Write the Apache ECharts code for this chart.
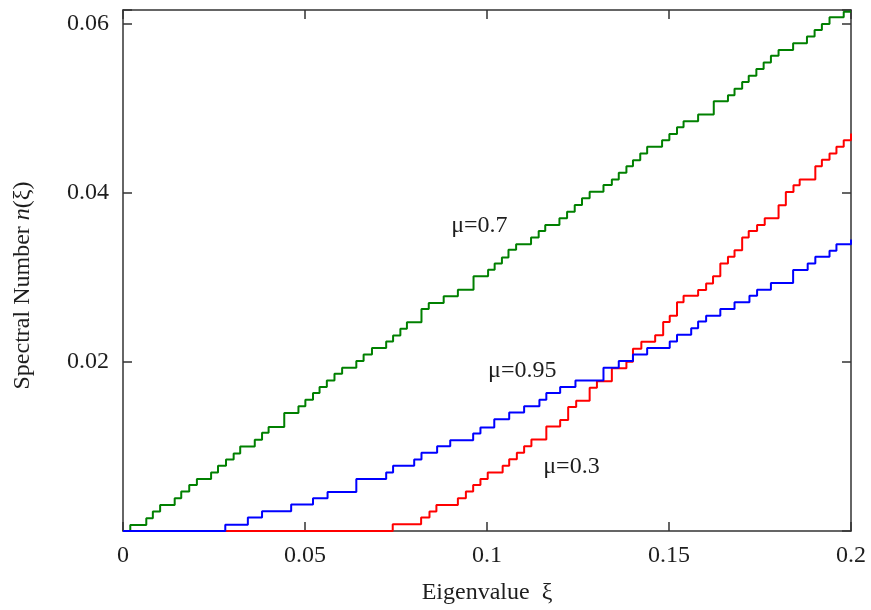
<!DOCTYPE html>
<html>
<head>
<meta charset="utf-8">
<script src="https://cdn.jsdelivr.net/npm/echarts@6/dist/echarts.min.js"></script>
<style>html,body{margin:0;padding:0;background:#fff}#c{width:871px;height:610px}</style>
</head>
<body>
<div id="c"></div>
<script>
// Eigenvalue positions where each curve steps up, and the new spectral number level
const greenX = [0.0020,0.0064,0.0082,0.0102,0.0142,0.0160,0.0182,0.0203,0.0242,0.0261,0.0283,0.0304,0.0322,0.0362,0.0382,0.0400,0.0443,0.0482,0.0501,0.0522,0.0540,0.0560,0.0581,0.0602,0.0641,0.0661,0.0684,0.0723,0.0742,0.0762,0.0780,0.0820,0.0840,0.0881,0.0920,0.0963,0.1003,0.1021,0.1041,0.1059,0.1080,0.1121,0.1142,0.1160,0.1199,0.1220,0.1241,0.1261,0.1282,0.1320,0.1343,0.1362,0.1383,0.1401,0.1421,0.1440,0.1481,0.1501,0.1522,0.1540,0.1580,0.1623,0.1662,0.1680,0.1701,0.1719,0.1740,0.1760,0.1780,0.1801,0.1841,0.1879,0.1900,0.1920,0.1941,0.1980];
const greenN = [0.00072,0.00151,0.00230,0.00308,0.00387,0.00466,0.00544,0.00614,0.00693,0.00772,0.00847,0.00917,0.01000,0.01079,0.01162,0.01232,0.01397,0.01475,0.01554,0.01633,0.01704,0.01782,0.01861,0.01932,0.02011,0.02088,0.02164,0.02242,0.02313,0.02392,0.02470,0.02627,0.02698,0.02777,0.02855,0.03013,0.03091,0.03166,0.03237,0.03327,0.03394,0.03473,0.03551,0.03621,0.03700,0.03779,0.03857,0.03936,0.04015,0.04093,0.04160,0.04239,0.04317,0.04388,0.04467,0.04546,0.04624,0.04699,0.04777,0.04848,0.04927,0.05084,0.05155,0.05233,0.05312,0.05387,0.05466,0.05544,0.05623,0.05693,0.05772,0.05850,0.05929,0.06000,0.06079,0.06145];

const blueX = [0.0281,0.0343,0.0382,0.0462,0.0522,0.0562,0.0641,0.0723,0.0742,0.0800,0.0820,0.0863,0.0899,0.0962,0.0982,0.1020,0.1061,0.1102,0.1144,0.1163,0.1201,0.1243,0.1320,0.1362,0.1401,0.1440,0.1502,0.1522,0.1561,0.1580,0.1602,0.1641,0.1680,0.1721,0.1742,0.1780,0.1841,0.1881,0.1902,0.1941,0.1960,0.2000];
const blueN = [0.00074,0.00159,0.00233,0.00313,0.00387,0.00462,0.00614,0.00693,0.00772,0.00847,0.00926,0.01004,0.01074,0.01153,0.01224,0.01322,0.01401,0.01475,0.01554,0.01633,0.01704,0.01782,0.01932,0.02011,0.02088,0.02165,0.02242,0.02321,0.02400,0.02478,0.02548,0.02627,0.02706,0.02784,0.02855,0.02934,0.03087,0.03166,0.03244,0.03315,0.03394,0.03450];

const redX = [0.0741,0.0819,0.0842,0.0861,0.0920,0.0942,0.0962,0.0982,0.1002,0.1043,0.1061,0.1082,0.1102,0.1122,0.1163,0.1201,0.1223,0.1245,0.1282,0.1302,0.1343,0.1383,0.1401,0.1424,0.1462,0.1484,0.1502,0.1522,0.1540,0.1580,0.1602,0.1621,0.1641,0.1662,0.1680,0.1701,0.1719,0.1742,0.1763,0.1801,0.1821,0.1842,0.1859,0.1902,0.1920,0.1941,0.1960,0.1980,0.2000];
const redN = [0.00080,0.00159,0.00230,0.00308,0.00387,0.00466,0.00544,0.00614,0.00693,0.00772,0.00850,0.00926,0.01004,0.01083,0.01236,0.01313,0.01466,0.01542,0.01696,0.01772,0.01926,0.02002,0.02156,0.02238,0.02317,0.02474,0.02548,0.02706,0.02784,0.02851,0.02930,0.03013,0.03166,0.03244,0.03323,0.03473,0.03551,0.03621,0.03700,0.03854,0.04011,0.04090,0.04160,0.04317,0.04393,0.04467,0.04546,0.04624,0.04703];

const xTicks = [0, 0.05, 0.1, 0.15, 0.2];
const yTicks = [0.02, 0.04, 0.06];
const curveLabels = [
  {text: 'μ=0.7', x: 0.0979, y: 0.0361, series: 'green'},
  {text: 'μ=0.95', x: 0.1097, y: 0.0190, series: 'blue'},
  {text: 'μ=0.3', x: 0.1232, y: 0.0076, series: 'red'}
];

const X_MAX = 0.2, Y_MAX = 0.06165;

function build(xs, ns) {
  const d = [[0, 0]];
  const n = Math.min(xs.length, ns.length);
  for (let i = 0; i < n; i++) d.push([xs[i], ns[i]]);
  if (d[d.length - 1][0] < X_MAX) d.push([X_MAX, d[d.length - 1][1]]);
  return d;
}

const FONT = '"Liberation Serif", "DejaVu Serif", serif';
const FS = 24;
const axisCol = '#333';
const txtCol = '#1e1e1e';

function stepSeries(name, color, xs, ns, lab) {
  return {
    name: name, type: 'line', step: 'end', data: build(xs, ns),
    showSymbol: false, symbol: 'none', clip: true,
    lineStyle: {color: color, width: 2},
    itemStyle: {color: color},
    markPoint: {
      symbol: 'circle', symbolSize: 0, silent: true,
      data: lab.map(l => ({coord: [l.x, l.y], value: l.text})),
      label: {show: true, position: 'inside', formatter: p => p.value,
        color: txtCol, fontFamily: FONT, fontSize: FS}
    }
  };
}

function isTick(v, list) { return list.some(t => Math.abs(t - v) < 1e-9); }

const line = {show: true, onZero: false, lineStyle: {color: axisCol, width: 1.5}};
const tick = {show: true, inside: true, length: 9, lineStyle: {color: axisCol, width: 1.5}};

const chart = echarts.init(document.getElementById('c'), null, {renderer: 'canvas'});
chart.setOption({
  animation: false,
  backgroundColor: '#fff',
  grid: {left: 123, right: 20, top: 10, bottom: 77, containLabel: false},
  xAxis: [{
    type: 'value', min: 0, max: X_MAX, interval: 0.05, position: 'bottom',
    name: 'Eigenvalue  ξ', nameLocation: 'middle', nameGap: 50,
    nameTextStyle: {fontFamily: FONT, fontSize: FS, color: txtCol},
    axisLine: line, axisTick: tick,
    axisLabel: {fontFamily: FONT, fontSize: FS, color: txtCol, margin: 13,
      formatter: v => isTick(v, xTicks) ? String(v) : ''},
    splitLine: {show: false}
  }, {
    type: 'value', min: 0, max: X_MAX, interval: 0.05, position: 'top',
    axisLine: line, axisTick: tick,
    axisLabel: {show: false}, splitLine: {show: false}
  }],
  yAxis: [{
    type: 'value', min: 0, max: Y_MAX, interval: 0.02, position: 'left',
    name: '{a|Spectral Number }{i|n}{a|(ξ)}', nameLocation: 'middle', nameGap: 88, nameRotate: 90,
    nameTextStyle: {fontFamily: FONT, fontSize: FS, color: txtCol, padding: [0, 30, 0, 0],
      rich: {a: {fontFamily: FONT, fontSize: FS, color: txtCol},
             i: {fontFamily: FONT, fontSize: FS, color: txtCol, fontStyle: 'italic'}}},
    axisLine: line, axisTick: tick,
    axisLabel: {fontFamily: FONT, fontSize: FS, color: txtCol, margin: 14,
      formatter: v => isTick(v, yTicks) ? v.toFixed(2) : ''},
    splitLine: {show: false}
  }, {
    type: 'value', min: 0, max: Y_MAX, interval: 0.02, position: 'right',
    axisLine: line, axisTick: tick,
    axisLabel: {show: false}, splitLine: {show: false}
  }],
  series: [
    stepSeries('μ=0.7', '#008000', greenX, greenN, curveLabels.filter(l => l.series === 'green')),
    stepSeries('μ=0.3', '#ff0000', redX, redN, curveLabels.filter(l => l.series === 'red')),
    stepSeries('μ=0.95', '#0000ff', blueX, blueN, curveLabels.filter(l => l.series === 'blue'))
  ]
});
</script>
</body>
</html>
